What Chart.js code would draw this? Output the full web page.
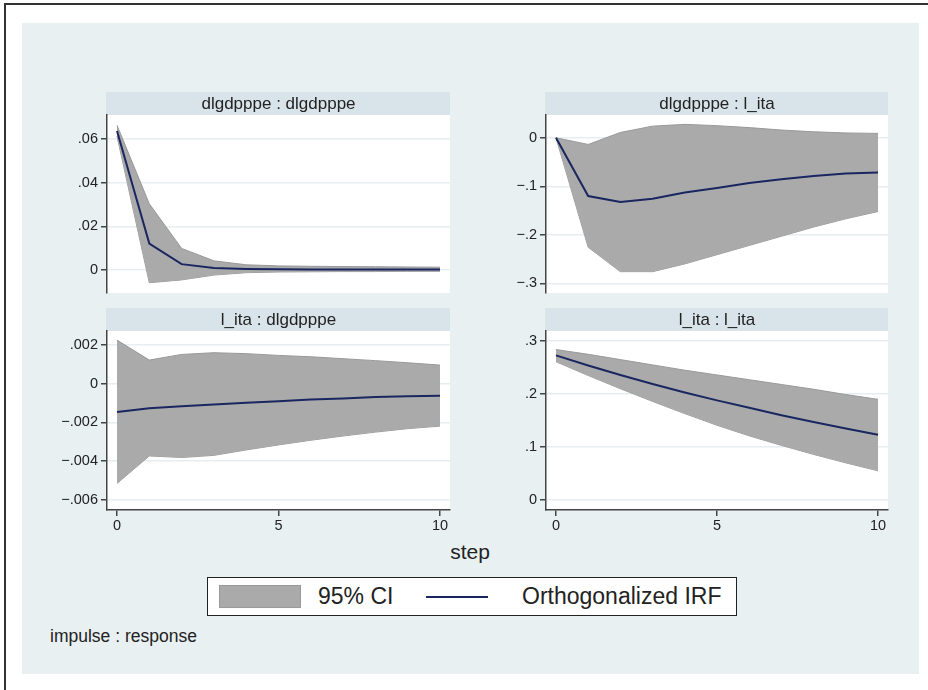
<!DOCTYPE html>
<html>
<head>
<meta charset="utf-8">
<script src="https://cdn.jsdelivr.net/npm/chart.js@4.4.1/dist/chart.umd.min.js"></script>
<style>
  body { margin: 0; width: 928px; height: 690px; background: #fff; position: relative; overflow: hidden;
         font-family: 'Liberation Sans', Arial, sans-serif; color: #222; }
  #frame { position: absolute; left: 4px; top: 3px; width: 940px; height: 700px;
           border-left: 2px solid #333; border-top: 2px solid #333; }
  #region { position: absolute; left: 22px; top: 23px; width: 897px; height: 651px; background: #e8f0f2; }
  canvas { position: absolute; }
  #step { position: absolute; left: 420px; width: 100px; top: 540px; text-align: center; font-size: 21px; }
  #legend { position: absolute; left: 207px; top: 577px; width: 528px; height: 37px; background: #fff;
            border: 1.5px solid #222; }
  #legend .sw { position: absolute; left: 11px; top: 7px; width: 80px; height: 21px; background: #aaaaaa; border: 1px solid #999; }
  #legend .ln { position: absolute; left: 218px; top: 18px; width: 62px; height: 2px; background: #1a2660; }
  #legend .t { position: absolute; top: 5px; font-size: 23px; white-space: nowrap; }
  #imp { position: absolute; left: 50px; top: 626px; font-size: 17.5px; }
</style>
</head>
<body>
<div id="frame"></div>
<div id="region"></div>
<canvas id="p1" width="420" height="212" style="left:40px;top:88px"></canvas>
<canvas id="p2" width="420" height="212" style="left:480px;top:88px"></canvas>
<canvas id="p3" width="420" height="235" style="left:40px;top:305px"></canvas>
<canvas id="p4" width="420" height="235" style="left:480px;top:305px"></canvas>
<div id="step">step</div>
<div id="legend">
  <div class="sw"></div><div class="t" style="left:110px">95% CI</div>
  <div class="ln"></div><div class="t" style="left:314px">Orthogonalized IRF</div>
</div>
<div id="imp">impulse : response</div>
<script>
var steps = [0, 1, 2, 3, 4, 5, 6, 7, 8, 9, 10];
var xTicks = [0, 5, 10];

// dlgdpppe : dlgdpppe
var irf1 = [0.0636, 0.0121, 0.0027, 0.0009, 0.0005, 0.0004, 0.0003, 0.0003, 0.0003, 0.0002, 0.0002];
var up1 = [0.0662, 0.0303, 0.0099, 0.0042, 0.0024, 0.0019, 0.0017, 0.0016, 0.0015, 0.0014, 0.0013];
var lo1 = [0.0612, -0.0058, -0.0045, -0.0023, -0.0012, -0.0009, -0.0008, -0.0007, -0.0007, -0.0006, -0.0006];
var ticks1 = [0, 0.02, 0.04, 0.06];
var labels1 = ['0', '.02', '.04', '.06'];

// dlgdpppe : l_ita
var irf2 = [0, -0.120, -0.1325, -0.1255, -0.113, -0.1035, -0.093, -0.0855, -0.0786, -0.0737, -0.0716];
var up2 = [0, -0.0137, 0.011, 0.024, 0.0277, 0.025, 0.021, 0.016, 0.0124, 0.010, 0.009];
var lo2 = [0, -0.2257, -0.276, -0.276, -0.260, -0.241, -0.222, -0.203, -0.184, -0.167, -0.152];
var ticks2 = [-0.3, -0.2, -0.1, 0];
var labels2 = ['\u2212.3', '\u2212.2', '\u2212.1', '0'];

// l_ita : dlgdpppe
var irf3 = [-0.00146, -0.00127, -0.00117, -0.00108, -0.00098, -0.0009, -0.00081, -0.00076, -0.00069, -0.00065, -0.00062];
var up3 = [0.00225, 0.00122, 0.00151, 0.0016, 0.00155, 0.00146, 0.00139, 0.00129, 0.00119, 0.00108, 0.00096];
var lo3 = [-0.00515, -0.00373, -0.00381, -0.0037, -0.00342, -0.00316, -0.00292, -0.0027, -0.0025, -0.00232, -0.00219];
var ticks3 = [-0.006, -0.004, -0.002, 0, 0.002];
var labels3 = ['\u2212.006', '\u2212.004', '\u2212.002', '0', '.002'];

// l_ita : l_ita
var irf4 = [0.273, 0.254, 0.236, 0.219, 0.203, 0.188, 0.174, 0.160, 0.147, 0.135, 0.123];
var up4 = [0.284, 0.275, 0.265, 0.255, 0.245, 0.236, 0.227, 0.218, 0.209, 0.199, 0.190];
var lo4 = [0.261, 0.235, 0.210, 0.186, 0.163, 0.141, 0.121, 0.103, 0.086, 0.070, 0.055];
var ticks4 = [0, 0.1, 0.2, 0.3];
var labels4 = ['0', '.1', '.2', '.3'];

var font = "'Liberation Sans', Arial, sans-serif";

// white plot region + header strip with the panel name
var panelBox = {
  id: 'panelBox',
  beforeDraw: function (chart, args, opts) {
    var a = chart.chartArea, c = chart.ctx;
    c.save();
    c.fillStyle = '#fff';
    c.fillRect(a.left, a.top, a.right - a.left, a.bottom - a.top);
    c.fillStyle = '#d9e4ea';
    c.fillRect(a.left - 1, a.top - 23, a.right - a.left + 1, 23);
    c.fillStyle = '#222';
    c.font = '17px ' + font;
    c.textAlign = 'center';
    c.textBaseline = 'middle';
    c.fillText(opts.text, (a.left + a.right) / 2, a.top - 11);
    c.restore();
  }
};

function pts(vals) {
  return steps.map(function (s, i) { return { x: s, y: vals[i] }; });
}

function panel(id, title, lo, up, irf, yMin, yMax, yTicks, yLabels, showX, axisW, padR) {
  new Chart(document.getElementById(id), {
    type: 'line',
    data: {
      datasets: [
        { data: pts(lo), borderColor: '#999', borderWidth: 1, pointRadius: 0, fill: false, order: 2 },
        { data: pts(up), borderColor: '#999', borderWidth: 1, pointRadius: 0, fill: '-1', backgroundColor: '#aaaaaa', order: 1 },
        { data: pts(irf), borderColor: '#1a2660', borderWidth: 2, pointRadius: 0, fill: false, order: 0 }
      ]
    },
    options: {
      responsive: false,
      animation: false,
      layout: { padding: { top: showX ? 26 : 27, right: padR, bottom: 0, left: 0 } },
      plugins: { legend: { display: false }, tooltip: { enabled: false }, panelBox: { text: title } },
      scales: {
        x: {
          type: 'linear', min: -0.31, max: 10.31,
          afterBuildTicks: function (s) { s.ticks = xTicks.map(function (v) { return { value: v }; }); },
          afterFit: function (s) { s.height = showX ? 30 : 7; },
          grid: { display: showX, drawOnChartArea: false, drawTicks: true, tickLength: 6, tickColor: '#444', lineWidth: 1.5 },
          border: { display: showX, color: '#444', width: 1.5 },
          ticks: { display: showX, color: '#222', padding: 1, maxRotation: 0, font: { family: font, size: 14.5 } }
        },
        y: {
          type: 'linear', min: yMin, max: yMax,
          afterBuildTicks: function (s) { s.ticks = yTicks.map(function (v) { return { value: v }; }); },
          afterFit: function (s) { s.width = axisW; s.paddingTop = 0; s.paddingBottom = 0; },
          grid: { color: '#e6eef1', lineWidth: 1.5, tickLength: 6, tickColor: '#444' },
          border: { display: true, color: '#444', width: 1.5 },
          ticks: {
            color: '#222', padding: 3, font: { family: font, size: 14.5 },
            callback: function (v) { var i = yTicks.indexOf(v); return i < 0 ? '' : yLabels[i]; }
          }
        }
      }
    },
    plugins: [panelBox]
  });
}

panel('p1', 'dlgdpppe : dlgdpppe', lo1, up1, irf1, -0.0105, 0.0709, ticks1, labels1, false, 67, 10);
panel('p2', 'dlgdpppe : l_ita', lo2, up2, irf2, -0.32, 0.047, ticks2, labels2, false, 66, 12);
panel('p3', 'l_ita : dlgdpppe', lo3, up3, irf3, -0.00652, 0.00272, ticks3, labels3, true, 67, 10);
panel('p4', 'l_ita : l_ita', lo4, up4, irf4, -0.019, 0.319, ticks4, labels4, true, 66, 12);
</script>
</body>
</html>
